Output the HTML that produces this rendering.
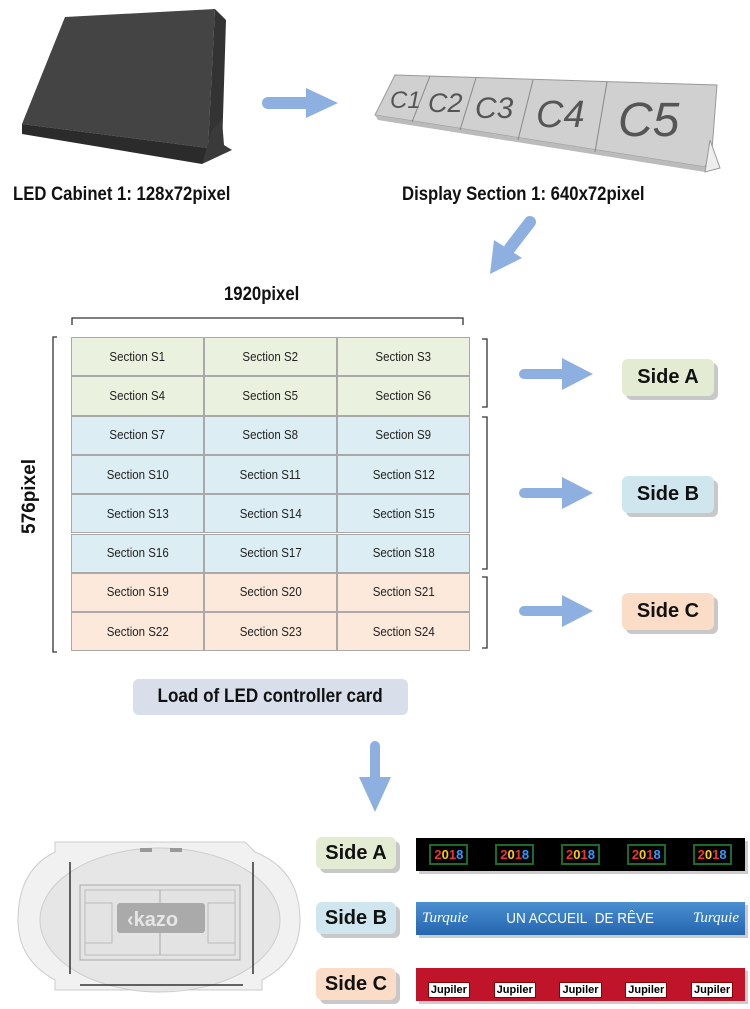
<!DOCTYPE html>
<html><head><meta charset="utf-8"><style>
*{margin:0;padding:0;box-sizing:border-box}
body{width:750px;height:1009px;background:#fff;position:relative;overflow:hidden;font-family:"Liberation Sans",sans-serif;color:#111}
.a{position:absolute}
.t{position:absolute;font-weight:bold;white-space:nowrap;transform-origin:left top}
.cell{position:absolute;width:133px;height:39.3px;border:1px solid #a9a9a9;font-size:12.5px;display:flex;align-items:center;justify-content:center;color:#222}
.cell span{display:inline-block;transform:scaleX(.92)}
.g{background:#ebf1df}.b{background:#dcedf3}.p{background:#fce9dc}
.side{position:absolute;border-radius:6px;font-weight:bold;font-size:20px;display:flex;align-items:center;justify-content:center;box-shadow:4px 4px 0 #c8c8c8}
</style></head><body>

<svg class="a" style="left:0;top:0" width="750" height="1009">
 <!-- LED cabinet -->
 <polygon points="65,17 215,9 208,148 22,124" fill="#444"/>
 <polygon points="215,9 226,20 222,148 208,148" fill="#333"/>
 <polygon points="22,124 208,148 222,148 202,164 22,134" fill="#2b2b2b"/>
 <polygon points="212,130 222,120 224,145 232,150 202,164" fill="#3a3a3a"/>
 <!-- arrow 1 -->
 <line x1="268" y1="103" x2="310" y2="103" stroke="#8db0e0" stroke-width="12" stroke-linecap="round"/>
 <polygon points="306,88 338,103 306,118" fill="#8db0e0"/>
 <!-- display section -->
 <polygon points="395,75 717,85 712,150 705,167 375,115" fill="#d0d0d0" stroke="#999"/>
 <polygon points="375,115 705,167 705,172 378,120" fill="#bbb"/>
 <polygon points="710,140 720,168 705,172" fill="#eee" stroke="#999"/>
 <line x1="430" y1="76" x2="412" y2="122" stroke="#888"/>
 <line x1="476" y1="78" x2="460" y2="130" stroke="#888"/>
 <line x1="533" y1="80" x2="518" y2="140" stroke="#888"/>
 <line x1="607" y1="82" x2="595" y2="152" stroke="#888"/>
 <g fill="#555" font-family="Liberation Sans,sans-serif" font-style="italic">
  <text x="390" y="108" font-size="24">C1</text>
  <text x="428" y="112" font-size="27">C2</text>
  <text x="475" y="118" font-size="30">C3</text>
  <text x="536" y="127" font-size="38">C4</text>
  <text x="618" y="136" font-size="48">C5</text>
 </g>
 <!-- diag arrow -->
 <line x1="530" y1="222" x2="510" y2="248" stroke="#8db0e0" stroke-width="12" stroke-linecap="round"/>
 <polygon points="490,274 494,240 522,258" fill="#8db0e0"/>
 <!-- braces -->
 <path d="M72,325 V318 H463 V325" fill="none" stroke="#333" stroke-width="1.3"/>
 <path d="M57,337 H53 V652 H57" fill="none" stroke="#333" stroke-width="1.3"/>
 <path d="M482,339 H487 V407 H482" fill="none" stroke="#333" stroke-width="1.3"/>
 <path d="M482,417 H487 V569 H482" fill="none" stroke="#333" stroke-width="1.3"/>
 <path d="M482,577 H487 V648 H482" fill="none" stroke="#333" stroke-width="1.3"/>
 <!-- side arrows -->
 <g fill="#8db0e0" stroke="#8db0e0">
  <line x1="524" y1="374" x2="565" y2="374" stroke-width="10" stroke-linecap="round"/><polygon points="562,358 593,374 562,390" stroke="none"/>
  <line x1="524" y1="493" x2="565" y2="493" stroke-width="10" stroke-linecap="round"/><polygon points="562,477 593,493 562,509" stroke="none"/>
  <line x1="524" y1="611" x2="565" y2="611" stroke-width="10" stroke-linecap="round"/><polygon points="562,595 593,611 562,627" stroke="none"/>
  <line x1="375" y1="746" x2="375" y2="780" stroke-width="10" stroke-linecap="round"/><polygon points="359,777 391,777 375,812" stroke="none"/>
 </g>
 <!-- stadium -->
 <path d="M55,842 H245 L255,852 Q300,870 300,920 Q300,960 262,980 V990 H55 V980 Q18,960 18,920 Q18,870 55,852 Z" fill="#f1f1f1" stroke="#ccc"/>
 <ellipse cx="160" cy="920" rx="120" ry="72" fill="#e6e6e6" stroke="#ccc"/>
 <rect x="80" y="885" width="160" height="75" fill="#e3e3e3" stroke="#aaa"/>
 <rect x="85" y="890" width="150" height="65" fill="none" stroke="#bbb"/>
 <line x1="160" y1="890" x2="160" y2="955" stroke="#aaa"/>
 <rect x="85" y="903" width="27" height="40" fill="none" stroke="#bbb"/>
 <rect x="208" y="903" width="27" height="40" fill="none" stroke="#bbb"/>
 <rect x="117" y="903" width="88" height="30" fill="#aaa" rx="3"/>
 <text x="127" y="926" font-size="20" font-weight="bold" fill="#e6e6e6" font-family="Liberation Sans,sans-serif">‹kazo</text>
 <line x1="70" y1="862" x2="70" y2="974" stroke="#333" stroke-width="1.5"/>
 <line x1="253" y1="862" x2="253" y2="974" stroke="#333" stroke-width="1.5"/>
 <line x1="80" y1="985" x2="243" y2="985" stroke="#333" stroke-width="1.5"/>
 <rect x="140" y="848" width="12" height="4" fill="#999"/><rect x="170" y="848" width="12" height="4" fill="#999"/>
</svg>

<div class="t" style="left:13px;top:184px;font-size:19px;transform:scaleX(.88)">LED Cabinet 1: 128x72pixel</div>
<div class="t" style="left:402px;top:184px;font-size:19px;transform:scaleX(.88)">Display Section 1: 640x72pixel</div>
<div class="t" style="left:224px;top:284px;font-size:19px;transform:scaleX(.88)">1920pixel</div>
<div class="t" style="left:19px;top:534px;font-size:19px;transform:rotate(-90deg)">576pixel</div>

<div id="grid"></div>
<script>
var h='',cl=['g','g','b','b','b','b','p','p'];
for(var r=0;r<8;r++)for(var c=0;c<3;c++){var n=r*3+c+1;
h+='<div class="cell '+cl[r]+'" style="left:'+(71+c*133)+'px;top:'+(337+r*39.3)+'px"><span>Section S'+n+'</span></div>';}
document.getElementById('grid').innerHTML=h;
</script>

<div class="side" style="left:622px;top:359px;width:92px;height:37px;background:#e3ecd2">Side A</div>
<div class="side" style="left:622px;top:476px;width:92px;height:37px;background:#cfe6ee">Side B</div>
<div class="side" style="left:622px;top:593px;width:92px;height:37px;background:#fbdcc6">Side C</div>

<div class="a" style="left:133px;top:679px;width:275px;height:36px;background:#d8dfea;border-radius:6px;font-weight:bold;font-size:19px;display:flex;align-items:center;justify-content:center"><span style="display:inline-block;transform:scaleX(.9)">Load of LED controller card</span></div>

<div class="side" style="left:316px;top:837px;width:80px;height:32px;background:#e3ecd2">Side A</div>
<div class="side" style="left:316px;top:902px;width:80px;height:32px;background:#cfe6ee">Side B</div>
<div class="side" style="left:316px;top:968px;width:80px;height:32px;background:#fbdcc6">Side C</div>

<div class="a" style="left:416px;top:838px;width:329px;height:33px;background:#000;box-shadow:3px 3px 0 #ccc;display:flex;justify-content:space-around;align-items:center">
 <span style="border:2px solid #1d6b2a;padding:1px 3px;font-weight:bold;font-size:13px"><span style="color:#e33">2</span><span style="color:#fc0">0</span><span style="color:#e33">1</span><span style="color:#39f">8</span></span>
 <span style="border:2px solid #1d6b2a;padding:1px 3px;font-weight:bold;font-size:13px"><span style="color:#e33">2</span><span style="color:#fc0">0</span><span style="color:#e33">1</span><span style="color:#39f">8</span></span>
 <span style="border:2px solid #1d6b2a;padding:1px 3px;font-weight:bold;font-size:13px"><span style="color:#e33">2</span><span style="color:#fc0">0</span><span style="color:#e33">1</span><span style="color:#39f">8</span></span>
 <span style="border:2px solid #1d6b2a;padding:1px 3px;font-weight:bold;font-size:13px"><span style="color:#e33">2</span><span style="color:#fc0">0</span><span style="color:#e33">1</span><span style="color:#39f">8</span></span>
 <span style="border:2px solid #1d6b2a;padding:1px 3px;font-weight:bold;font-size:13px"><span style="color:#e33">2</span><span style="color:#fc0">0</span><span style="color:#e33">1</span><span style="color:#39f">8</span></span>
</div>
<div class="a" style="left:416px;top:902px;width:329px;height:33px;background:linear-gradient(#4a8fd0,#2566b0);box-shadow:3px 3px 0 #ccc;color:#fff;display:flex;justify-content:space-between;align-items:center;padding:0 6px;font-size:15px">
 <i style="font-family:'Liberation Serif',serif">Turquie</i><span style="transform:scaleX(.9);display:inline-block">UN ACCUEIL&nbsp; DE RÊVE</span><i style="font-family:'Liberation Serif',serif">Turquie</i>
</div>
<div class="a" style="left:416px;top:968px;width:329px;height:33px;background:#c0142a;box-shadow:3px 3px 0 #ccc;display:flex;justify-content:space-around;align-items:flex-end;padding-bottom:3px">
 <span style="background:#fff;color:#000;font-weight:bold;font-size:11px;padding:1px 2px;border:1px solid #800">Jupiler</span>
 <span style="background:#fff;color:#000;font-weight:bold;font-size:11px;padding:1px 2px;border:1px solid #800">Jupiler</span>
 <span style="background:#fff;color:#000;font-weight:bold;font-size:11px;padding:1px 2px;border:1px solid #800">Jupiler</span>
 <span style="background:#fff;color:#000;font-weight:bold;font-size:11px;padding:1px 2px;border:1px solid #800">Jupiler</span>
 <span style="background:#fff;color:#000;font-weight:bold;font-size:11px;padding:1px 2px;border:1px solid #800">Jupiler</span>
</div>
</body></html>
